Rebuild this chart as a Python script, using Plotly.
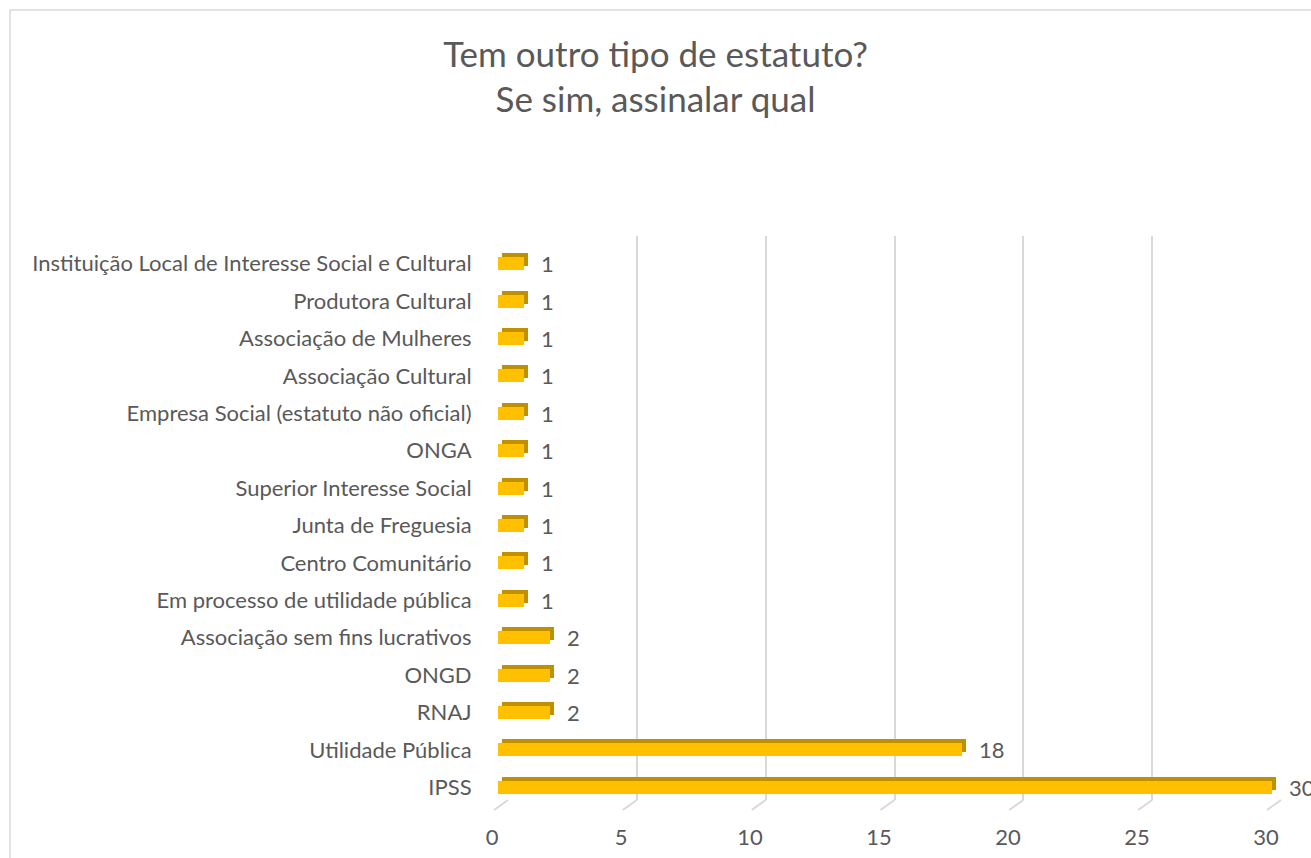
import plotly.graph_objects as go

categories = [
    "IPSS", "Utilidade Pública", "RNAJ", "ONGD", "Associação sem fins lucrativos",
    "Em processo de utilidade pública", "Centro Comunitário", "Junta de Freguesia",
    "Superior Interesse Social", "ONGA", "Empresa Social (estatuto não oficial)",
    "Associação Cultural", "Associação de Mulheres", "Produtora Cultural",
    "Instituição Local de Interesse Social e Cultural",
]
values = [30, 18, 2, 2, 2, 1, 1, 1, 1, 1, 1, 1, 1, 1, 1]
x_ticks = [0, 5, 10, 15, 20, 25, 30]

FONT = "Lato"
TXT = "#595959"
FRONT = "#FFC000"
DARK = "#BF9000"
GRID = "#D9D9D9"

OFF = 0  # page body margin removed by post_script
FW, FH = 1311, 858
# plot area in page pixels
PL, PR, PT, PB = 486, 1286, 236, 806
L, T = PL - OFF, PT - OFF
R, B = FW - (PR - OFF), FH - (PB - OFF)
PW, PH = PR - PL, PB - PT

def dx(a, b):
    return [(a - PL) / PW, (b - PL) / PW]

def dy(top, bottom):
    return [(PB - bottom) / PH, (PB - top) / PH]

BW = 0.35
FS = 22

fig = go.Figure()

# back wall (gridlines)
fig.add_trace(go.Scatter(x=[0], y=[0], mode="markers", marker=dict(opacity=0),
                         xaxis="x", yaxis="y", hoverinfo="skip", showlegend=False))
# bar top/side faces
fig.add_trace(go.Bar(x=values, y=categories, orientation="h", width=BW,
                     marker=dict(color=DARK, line=dict(width=0)),
                     xaxis="x2", yaxis="y2", hoverinfo="skip", showlegend=False))
# bar front faces
fig.add_trace(go.Bar(x=values, y=categories, orientation="h", width=BW,
                     marker=dict(color=FRONT, line=dict(width=0)),
                     xaxis="x3", yaxis="y3", showlegend=False))
# value labels
fig.add_trace(go.Bar(x=values, y=categories, orientation="h", width=BW,
                     marker=dict(color="rgba(0,0,0,0)", line=dict(width=0)),
                     text=[str(v) for v in values], textposition="outside",
                     constraintext="none",
                     textfont=dict(family=FONT, size=FS, color=TXT),
                     cliponaxis=False,
                     xaxis="x4", yaxis="y4", hoverinfo="skip", showlegend=False))

cat_axis = dict(type="category", categoryorder="array", categoryarray=categories,
                range=[-0.5, len(categories) - 0.5], fixedrange=True)
common = dict(automargin=False, zeroline=False)

BACK_X0, BACK_X1 = 508, 1281

fig.update_layout(
    width=FW, height=FH,
    margin=dict(l=L, r=R, t=T, b=B, pad=0, autoexpand=False),
    paper_bgcolor="white", plot_bgcolor="rgba(0,0,0,0)",
    font=dict(family=FONT, color=TXT, size=FS),
    title=dict(text="Tem outro tipo de estatuto?<br>Se sim, assinalar qual",
               x=0.5, xanchor="center", y=1 - (66.5 - OFF) / FH, yanchor="middle",
               font=dict(family=FONT, size=35, color=TXT)),
    bargap=0,
    xaxis=dict(domain=dx(BACK_X0, BACK_X1), range=[0, 30], tickvals=x_ticks,
               showgrid=True, gridcolor=GRID, gridwidth=2,
               showticklabels=False, showline=False, anchor="y", **common),
    yaxis=dict(domain=dy(236, 800), range=[0, 1], showgrid=False,
               showticklabels=False, anchor="x", **common),
    xaxis2=dict(domain=dx(502, 1276), range=[0, 30], showgrid=False,
                showticklabels=False, anchor="y2", **common),
    yaxis2=dict(domain=dy(241, 802), showgrid=False,
                showticklabels=False, anchor="x2", **cat_axis, **common),
    xaxis3=dict(domain=dx(498, 1272), range=[0, 30], tickvals=x_ticks,
                showgrid=False, showline=False,
                ticks="outside", ticklen=0, ticklabelstandoff=12, ticklabelshift=-6,
                tickfont=dict(family=FONT, size=FS, color=TXT), anchor="y3", **common),
    yaxis3=dict(domain=dy(245, 806), showgrid=False, showline=False,
                ticks="outside", ticklen=0, ticklabelstandoff=21,
                tickfont=dict(family=FONT, size=FS, color=TXT), anchor="x3",
                **cat_axis, **common),
    xaxis4=dict(domain=dx(512, 1286), range=[0, 30], showgrid=False,
                showticklabels=False, anchor="y4", **common),
    yaxis4=dict(domain=dy(245, 806), showgrid=False,
                showticklabels=False, anchor="x4", **cat_axis, **common),
)

# bottom diagonals of the back-wall gridlines (3-D floor edge)
unit_px = (BACK_X1 - BACK_X0) / 30
for v in x_ticks:
    bx = BACK_X0 + v * unit_px
    fig.add_shape(type="line", xref="paper", yref="paper",
                  x0=(bx - PL) / PW, y0=(PB - 800) / PH,
                  x1=(bx - 14 - PL) / PW, y1=(PB - 810) / PH,
                  line=dict(color=GRID, width=2), layer="below")

# chart border (top and left edges visible)
fig.add_shape(type="rect", xref="paper", yref="paper",
              x0=(10 - PL) / PW, x1=(1311 + 30 - PL) / PW,
              y0=(PB - 900) / PH, y1=(PB - 10) / PH,
              line=dict(color=GRID, width=1.5), fillcolor="rgba(0,0,0,0)", layer="below")

fig.write_html(
    "out.html",
    config={"displayModeBar": False},
    post_script="document.body.style.margin='0';document.body.style.overflow='hidden';",
)
